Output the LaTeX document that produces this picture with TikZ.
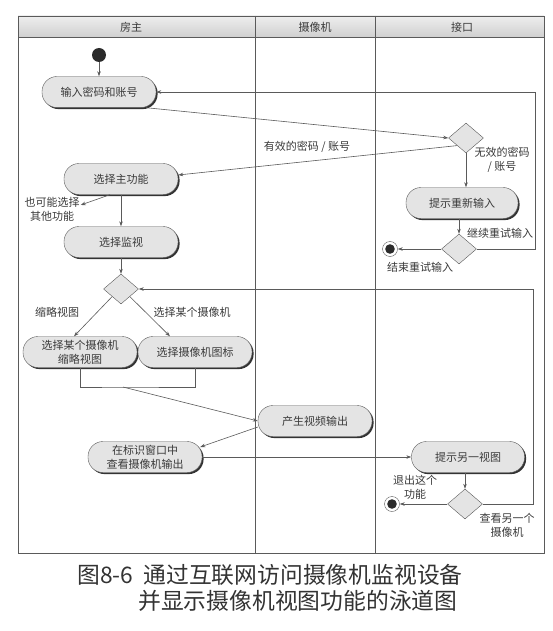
\documentclass[tikz,border=0pt]{standalone}
\usepackage{fontspec}
\setmainfont{Noto Sans CJK SC}
\usepackage{xcolor}
\definecolor{LineGray}{HTML}{5A5A5A}
\definecolor{NodeFill}{HTML}{E4E4E4}
\definecolor{HeadTop}{HTML}{EEEEEE}
\definecolor{HeadBot}{HTML}{D0D0D0}
\definecolor{TextGray}{HTML}{3A3A3A}
\definecolor{DotDark}{HTML}{2B2B2B}
\usetikzlibrary{arrows.meta, shapes.geometric, shadows}
\tikzset{
  act/.style={
    rectangle, rounded corners=15pt,
    draw=LineGray, fill=NodeFill,
    minimum width=#1, minimum height=31pt,
    align=center, inner sep=2pt, text=TextGray,
    font=\fontsize{11}{14}\selectfont,
    drop shadow={shadow xshift=1.6pt, shadow yshift=-1.6pt, fill=black!80, opacity=1}
  },
  act/.default=114pt,
  choice/.style={diamond, draw=LineGray, fill=NodeFill, minimum width=35pt, minimum height=30pt, inner sep=0pt},
  startdot/.style={circle, fill=DotDark, minimum size=14pt, inner sep=0pt},
  enddot/.style={circle, draw=LineGray, fill=white, minimum size=15pt, inner sep=0pt,
    path picture={\fill[DotDark] (path picture bounding box.center) circle (4.8pt);}},
  lbl/.style={font=\fontsize{11}{14}\selectfont, text=TextGray, align=center, inner sep=1pt},
  capline/.style={font=\fontsize{22.8}{26}\selectfont, text=black!80, anchor=west, inner sep=0pt},
  arr/.style={-{Stealth[length=5pt, width=3.5pt]}, line width=0.6pt, color=LineGray},
  lane/.style={line width=0.7pt, color=LineGray},
}

\begin{document}
\begin{tikzpicture}[x=1pt, y=-1pt]
\useasboundingbox (0,0) rectangle (553,631);

\shade[top color=HeadTop, bottom color=HeadBot] (18,16) rectangle (544,37);
\draw[lane] (18,16) rectangle (544,553);
\draw[lane] (18,37) -- (544,37);
\draw[lane] (255,16) -- (255,553);
\draw[lane] (375,16) -- (375,553);
\node[lbl] (owner) at (131,27) {房主};
\node[lbl] (camera) at (315,27) {摄像机};
\node[lbl] (iface) at (462,27) {接口};

\node[startdot] at (99,55) (start) {};
\node[act] at (99,92) (login) {输入密码和账号};
\node[choice] at (466,138) (check) {};
\node[act] at (121,179) (menu) {选择主功能};
\node[act=112pt] at (462,203) (retry) {提示重新输入};
\node[choice] at (459,249) (again) {};
\node[enddot] at (390,249) (stopA) {};
\node[act] at (121,242) (monitor) {选择监视};
\node[choice] at (121,289) (pick) {};
\node[act] at (80,352) (thumb) {选择某个摄像机\\缩略视图};
\node[act] at (195,352) (icon) {选择摄像机图标};
\node[act] at (315,421) (video) {产生视频输出};
\node[act] at (145,457) (view) {在标识窗口中\\查看摄像机输出};
\node[act=113pt] at (468,457) (hint) {提示另一视图};
\node[choice] at (465,504) (more) {};
\node[enddot] at (392,504) (stopB) {};

\node[lbl] at (307,147) (valid) {有效的密码 / 账号};
\node[lbl] at (502,160) (invalid) {无效的密码\\/ 账号};
\node[lbl] at (500,233) (goon) {继续重试输入};
\node[lbl] at (420,267) (quitA) {结束重试输入};
\node[lbl] at (52,209) (other) {也可能选择\\其他功能};
\node[lbl] at (57,312) (small) {缩略视图};
\node[lbl] at (192,312) (single) {选择某个摄像机};
\node[lbl] at (415,487) (quitB) {退出这个\\功能};
\node[lbl] at (507,525) (next) {查看另一个\\摄像机};

\coordinate (loopA) at (535,92);
\coordinate (loopB) at (533,289);
\coordinate (join) at (123,387);

\draw[arr] (start) -- (login);
\draw[arr] ([xshift=-10pt]login.south east) -- (check.west);
\draw[arr] (check.south west) -- ([yshift=4pt]menu.east);
\draw[arr] (check.south) -- (check.south |- retry.north);
\draw[arr] (again.north |- retry.south) -- (again.north);
\draw[arr] (again) -- (stopA);
\draw[arr] (again.east) -| (loopA) -- (login.east);
\draw[arr] ([xshift=-11pt]menu.south) -- ([yshift=4pt]other.east);
\draw[arr] (menu) -- (monitor);
\draw[arr] (monitor) -- (pick);
\draw[arr] (pick.south west) -- ([xshift=-6pt]thumb.north);
\draw[arr] (pick.south east) -- ([xshift=-25pt]icon.north);
\draw[lane, line width=0.6pt] (thumb.south) |- (join) -| (icon.south);
\draw[arr] (join) -- (video.west);
\draw[arr] ([yshift=-6pt]video.west) -- ([xshift=-2pt, yshift=10pt]view.east);
\draw[arr] (view.east) -- (hint.west);
\draw[arr] (more.north |- hint.south) -- (more.north);
\draw[arr] (more) -- (stopB);
\draw[arr] (more.east) -| (loopB) -- (pick.east);

\node[capline] at (77,575) (cap1) {图8-6\hspace{0.45em}通过互联网访问摄像机监视设备};
\node[capline] at (138,601) (cap2) {并显示摄像机视图功能的泳道图};
\end{tikzpicture}
\end{document}
